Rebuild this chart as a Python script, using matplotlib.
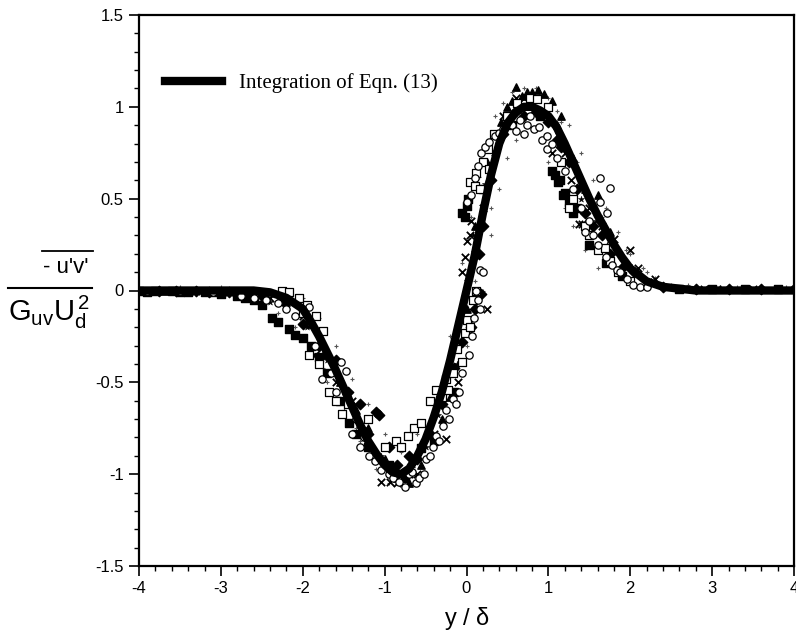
import matplotlib
matplotlib.use('Agg')
import matplotlib.pyplot as plt
from matplotlib.lines import Line2D
from matplotlib.ticker import MultipleLocator

# solid line: integration of Eqn. (13)
curve_x = [-4.0, -2.6, -2.4, -2.2, -2.0, -1.9, -1.8, -1.7, -1.6, -1.5, -1.4, -1.3, -1.2, -1.1,
           -1.0, -0.9, -0.8, -0.7, -0.6, -0.5, -0.4, -0.3, -0.2, -0.1, 0.0, 0.1, 0.2, 0.3,
           0.4, 0.5, 0.6, 0.7, 0.8, 0.9, 1.0, 1.1, 1.2, 1.3, 1.4, 1.5, 1.6, 1.7, 1.8, 1.9,
           2.0, 2.2, 2.4, 2.6, 2.8, 4.0]
curve_y = [0.0, 0.0, -0.01, -0.04, -0.10, -0.17, -0.25, -0.34, -0.43, -0.53, -0.63, -0.73, -0.82, -0.89,
           -0.95, -0.99, -1.0, -0.97, -0.90, -0.81, -0.69, -0.55, -0.38, -0.19, 0.0, 0.19, 0.42, 0.63,
           0.80, 0.91, 0.97, 1.0, 1.0, 0.98, 0.95, 0.89, 0.80, 0.70, 0.60, 0.50, 0.41, 0.33, 0.25, 0.18,
           0.12, 0.05, 0.02, 0.01, 0.0, 0.0]

circ_x = [-3.9, -3.5, -3.1, -2.75, -2.6, -2.45, -2.3, -2.2, -2.1, -1.92, -1.85, -1.76, -1.65,
          -1.6, -1.53, -1.47, -1.40, -1.35, -1.30, -1.25, -1.19, -1.12, -1.05, -0.95, -0.9,
          -0.82, -0.75, -0.7, -0.66, -0.62, -0.58, -0.52, -0.49, -0.45, -0.41, -0.37, -0.33,
          -0.29, -0.25, -0.21, -0.17, -0.13, -0.09, -0.05, 0.03, 0.07, 0.09, 0.12, 0.14, 0.16,
          0.16, 0.2, 0.01, 0.05, 0.10, 0.14, 0.18, 0.22, 0.28, 0.35, 0.40, 0.45, 0.55, 0.6,
          0.65, 0.7, 0.74, 0.77, 0.82, 0.89, 0.92, 0.98, 0.98, 1.05, 1.1, 1.2, 1.3, 1.4, 1.45,
          1.5, 1.55, 1.6, 1.63, 1.63, 1.7, 1.72, 1.75, 1.78, 1.84, 1.88, 1.96, 2.03, 2.12, 2.21]
circ_y = [0.0, 0.0, -0.01, -0.03, -0.04, -0.05, -0.07, -0.10, -0.14, -0.09, -0.30, -0.48, -0.45,
          -0.55, -0.39, -0.44, -0.78, -0.70, -0.85, -0.80, -0.90, -0.93, -0.98, -1.0, -1.02,
          -1.04, -1.07, -1.0, -0.99, -1.05, -1.02, -1.0, -0.92, -0.90, -0.85, -0.79, -0.82,
          -0.74, -0.65, -0.70, -0.59, -0.62, -0.55, -0.45, -0.35, -0.25, -0.15, 0.0, -0.05,
          -0.10, 0.11, 0.10, 0.48, 0.52, 0.61, 0.68, 0.75, 0.78, 0.81, 0.84, 0.86, 0.88, 0.90,
          0.87, 0.93, 0.85, 0.90, 0.95, 0.88, 0.89, 0.82, 0.84, 0.77, 0.80, 0.72, 0.65, 0.55,
          0.45, 0.32, 0.38, 0.30, 0.25, 0.61, 0.48, 0.18, 0.42, 0.56, 0.14, 0.11, 0.10, 0.06,
          0.03, 0.02, 0.02]

osq_x = [-2.25, -2.17, -2.05, -2.0, -1.95, -1.84, -1.92, -1.8, -1.75, -1.68, -1.6, -1.52,
         -1.45, -1.2, -1.0, -0.86, -0.8, -0.72, -0.64, -0.55, -0.45, -0.37, -0.3, -0.25,
         -0.23, -0.17, -0.11, -0.05, -0.02, 0.0, 0.04, 0.08, 0.12, 0.04, 0.10, 0.12, 0.16,
         0.2, 0.26, 0.28, 0.33, 0.5, 0.62, 0.78, 0.86, 1.0, 1.15, 1.25, 1.3, 1.45, 1.50,
         1.6, 1.69, 1.75, 1.85, 2.0]
osq_y = [0.0, -0.01, -0.04, -0.12, -0.08, -0.14, -0.35, -0.40, -0.22, -0.55, -0.60, -0.67,
         -0.62, -0.70, -0.85, -0.82, -0.85, -0.79, -0.75, -0.72, -0.60, -0.54, -0.58, -0.48,
         -0.54, -0.45, -0.32, -0.39, -0.23, -0.16, -0.20, -0.05, 0.0, 0.59, 0.57, 0.64, 0.55,
         0.70, 0.77, 0.66, 0.85, 0.95, 1.02, 1.05, 1.04, 1.0, 0.70, 0.45, 0.50, 0.35, 0.30,
         0.22, 0.23, 0.16, 0.10, 0.05]

fsq_x = [-4.0, -3.9, -3.8, -3.6, -3.5, -3.4, -3.2, -3.1, -3.0, -2.8, -2.7, -2.6, -2.5, -2.38,
         -2.3, -2.17, -2.1, -2.0, -1.9, -1.8, -1.7, -1.55, -1.43, -1.35, -1.2, -0.95, -0.75,
         -0.55, -0.4, -0.15, -0.05, -0.02, 0.01, 0.02, 0.2, 0.55, 0.9, 1.05, 1.08, 1.12,
         1.14, 1.18, 1.20, 1.25, 1.3, 1.35, 1.5, 1.7, 1.9, 2.6, 3.0, 3.4, 3.8]
fsq_y = [0.0, -0.01, 0.0, 0.0, -0.01, -0.01, -0.01, -0.01, -0.02, -0.03, -0.04, -0.05, -0.08,
         -0.15, -0.17, -0.21, -0.24, -0.26, -0.30, -0.36, -0.45, -0.60, -0.72, -0.78, -0.85,
         -0.95, -1.02, -0.86, -0.82, -0.55, 0.42, 0.40, 0.46, 0.50, 0.55, 0.90, 0.95, 0.65,
         0.63, 0.59, 0.60, 0.52, 0.53, 0.48, 0.42, 0.45, 0.25, 0.15, 0.08, 0.01, 0.01, 0.01,
         0.01]

xm_x = [-3.3, -2.9, -2.4, -2.0, -1.85, -1.6, -1.4, -1.2, -1.04, -0.94, -0.85, -0.7, -0.6,
        -0.4, -0.25, -0.1, -0.06, -0.02, 0.0, 0.04, 0.05, 0.1, 0.2, 0.25, 0.45, 0.6, 0.70,
        0.85, 1.05, 1.2, 1.28, 1.38, 1.41, 1.5, 1.65, 1.8, 2.0, 2.1, 2.3, 2.9, 3.5]
xm_y = [0.0, -0.01, -0.04, -0.14, -0.35, -0.50, -0.60, -0.85, -1.04, -1.04, -1.05, -1.0,
        -1.0, -0.78, -0.81, -0.50, 0.10, 0.18, 0.27, 0.30, 0.38, 0.20, 0.45, -0.10, 0.95,
        1.05, 1.05, 1.05, 0.75, 0.75, 0.60, 0.36, 0.36, 0.45, 0.35, 0.28, 0.22, 0.12, 0.06,
        0.01, 0.01]

tri_x = [-3.7, -3.0, -2.2, -1.9, -1.75, -1.55, -1.35, -1.20, -1.0, -0.85, -0.70, -0.55,
         -0.3, -0.2, 0.0, 0.1, 0.25, 0.35, 0.42, 0.50, 0.55, 0.61, 0.68, 0.74, 0.8, 0.87,
         0.95, 1.0, 1.05, 1.1, 1.15, 1.3, 1.45, 1.60, 1.75, 1.95, 2.2, 3.1]
tri_y = [0.0, -0.01, -0.06, -0.18, -0.35, -0.50, -0.65, -0.75, -0.92, -1.02, -1.05, -0.95,
         -0.70, -0.58, -0.10, 0.35, 0.70, 0.85, 0.92, 1.00, 1.03, 1.11, 1.06, 1.08, 1.08,
         1.09, 1.07, 1.0, 1.03, 0.90, 0.95, 0.72, 0.55, 0.52, 0.32, 0.15, 0.04, 0.01]

dia_x = [-3.75, -3.55, -3.3, -3.15, -2.9, -2.65, -2.5, -2.25, -2.0, -1.8, -1.6, -1.45, -1.3,
         -1.2, -1.1, -1.07, -0.95, -0.85, -0.7, -0.6, -0.45, -0.3, -0.15, -0.05, 0.05, 0.1,
         0.15, 0.18, 0.2, 0.3, 0.45, 0.6, 0.7, 0.85, 1.0, 1.1, 1.15, 1.25, 1.35, 1.45, 1.55,
         1.65, 1.75, 1.9, 2.05, 2.4, 2.8, 3.2, 3.6, 4.0]
dia_y = [0.0, 0.0, 0.0, -0.01, -0.01, -0.02, -0.03, -0.05, -0.18, -0.30, -0.38, -0.55, -0.62,
         -0.78, -0.66, -0.68, -0.85, -0.95, -0.90, -0.92, -0.78, -0.62, -0.42, -0.28, -0.20,
         -0.10, 0.20, -0.02, 0.35, 0.60, 0.85, 0.98, 0.95, 0.97, 0.92, 0.82, 0.78, 0.70, 0.55,
         0.42, 0.35, 0.30, 0.20, 0.12, 0.10, 0.02, 0.01, 0.01, 0.01, 0.01]

star_x = [-2.6, -2.4, -1.95, -1.7, -1.5, -1.25, -1.05, -0.9, -0.65, -0.5, -0.35, -0.12, 0.0,
          0.08, 0.22, 0.32, 0.5, 0.65, 0.95, 1.12, 1.22, 1.4, 1.58, 1.72, 1.98, 2.25, 2.5]
star_y = [-0.02, -0.06, -0.20, -0.38, -0.55, -0.75, -0.90, -0.96, -0.95, -0.85, -0.68, -0.40,
          0.05, 0.30, 0.58, 0.75, 0.92, 0.98, 0.95, 0.85, 0.70, 0.50, 0.38, 0.25, 0.14, 0.05,
          0.02]

dot_x = [-2.3, -2.1, -1.9, -1.7, -1.5, -1.3, -1.1, -2.0, -1.8, -1.6, -1.4, -1.2, -1.0, -0.8,
         -0.6, -0.4, -0.2, 0.05, -0.05, 0.05, 0.15, 0.25, 0.35, 0.45, 0.55, 0.7, 0.85, 1.0,
         1.1, 1.25, 1.4, 1.55, 1.7, 1.85, 2.0, 2.15, 2.3, 2.5, 0.2, 0.3, 0.4, 0.5, 0.6, 1.0,
         1.1, 1.2, 1.3, 1.45, 1.6, -3.5, -3.0, -2.7, 2.7, 3.3, 3.9, -2.2, -1.75, -1.35,
         -0.95, -0.55, -0.3, 0.0, 0.1, 0.3, 0.6, 0.9, 1.15, 1.35, 1.65, 1.95, 2.2]
dot_y = [-0.12, -0.20, -0.32, -0.50, -0.65, -0.82, -0.97, -0.04, -0.15, -0.30, -0.48, -0.62,
         -0.78, -0.88, -0.78, -0.55, -0.25, 0.10, 0.15, 0.40, 0.62, 0.80, 0.95, 1.02, 1.08,
         1.10, 1.10, 1.05, 0.98, 0.90, 0.75, 0.60, 0.45, 0.32, 0.20, 0.12, 0.07, 0.03, 0.0,
         0.30, 0.55, 0.72, 0.82, 0.70, 0.60, 0.45, 0.35, 0.22, 0.12, 0.02, 0.02, 0.01, 0.03,
         0.02, 0.02, -0.09, -0.42, -0.75, -1.05, -1.02, -0.75, -0.30, 0.05, 0.45, 0.88, 1.05,
         0.92, 0.70, 0.40, 0.22, 0.10]

xticks = [-4, -3, -2, -1, 0, 1, 2, 3, 4]
yticks = [-1.5, -1, -0.5, 0, 0.5, 1, 1.5]
ytick_labels = ['-1.5', '-1', '-0.5', '0', '0.5', '1', '1.5']

plt.rcParams['font.family'] = ['Liberation Sans', 'DejaVu Sans']
plt.rcParams['mathtext.fontset'] = 'custom'
plt.rcParams['mathtext.rm'] = 'Liberation Sans'
plt.rcParams['mathtext.it'] = 'Liberation Sans'

fig = plt.figure(figsize=(7.96, 6.31), dpi=100)
ax = fig.add_axes([139 / 796, 1 - 566 / 631, 655 / 796, 551 / 631])

ms = 28
ax.scatter(dot_x, dot_y, s=8, marker='+', color='#555555', linewidths=0.8, zorder=2)
ax.scatter(star_x, star_y, s=22, marker='*', color='black', linewidths=0.3, zorder=3)
ax.scatter(fsq_x, fsq_y, s=ms, marker='s', color='black', zorder=3)
ax.scatter(dia_x, dia_y, s=ms, marker='D', color='black', zorder=3)
ax.scatter(tri_x, tri_y, s=ms, marker='^', color='black', zorder=3)
ax.scatter(xm_x, xm_y, s=ms, marker='x', color='black', linewidths=1.3, zorder=3)
ax.scatter(osq_x, osq_y, s=ms, marker='s', facecolor='white', edgecolor='black',
           linewidths=0.9, zorder=4)
ax.scatter(circ_x, circ_y, s=ms, marker='o', facecolor='white', edgecolor='black',
           linewidths=0.9, zorder=4)

ax.plot(curve_x, curve_y, color='black', lw=6, solid_joinstyle='round', zorder=5,
        label='Integration of Eqn. (13)')

ax.set_xlim(-4, 4)
ax.set_ylim(-1.5, 1.5)
ax.set_xticks(xticks)
ax.set_xticklabels([str(t) for t in xticks])
ax.set_yticks(yticks)
ax.set_yticklabels(ytick_labels)
ax.xaxis.set_minor_locator(MultipleLocator(0.2))
ax.yaxis.set_minor_locator(MultipleLocator(0.1))
ax.tick_params(which='major', direction='out', length=7, width=1.2, labelsize=12, pad=4)
ax.tick_params(which='minor', direction='out', length=3.5, width=1.0)
for s in ax.spines.values():
    s.set_linewidth(1.6)

ax.set_xlabel(r'y / $\delta$', fontsize=17, labelpad=6)

leg = ax.legend(loc='upper left', bbox_to_anchor=(0.027, 0.91), frameon=False,
                handlelength=2.75, handletextpad=0.8, borderaxespad=0,
                prop={'family': 'Liberation Serif', 'size': 15})

# y-axis label as a fraction
W, H = 796, 631
fig.text(66 / W, 1 - 268 / H, "- u'v'", fontsize=16, ha='center', va='center')
fig.add_artist(Line2D([42 / W, 93 / W], [1 - 251 / H, 1 - 251 / H], color='black', lw=1.3))
fig.add_artist(Line2D([8 / W, 92 / W], [1 - 288 / H, 1 - 288 / H], color='black', lw=1.5))
fig.text(49 / W, 1 - 312 / H, r'$\mathregular{G_{uv}U_d^{\,2}}$', fontsize=21,
         ha='center', va='center')

fig.savefig('out.png', dpi=100)
plt.close(fig)
